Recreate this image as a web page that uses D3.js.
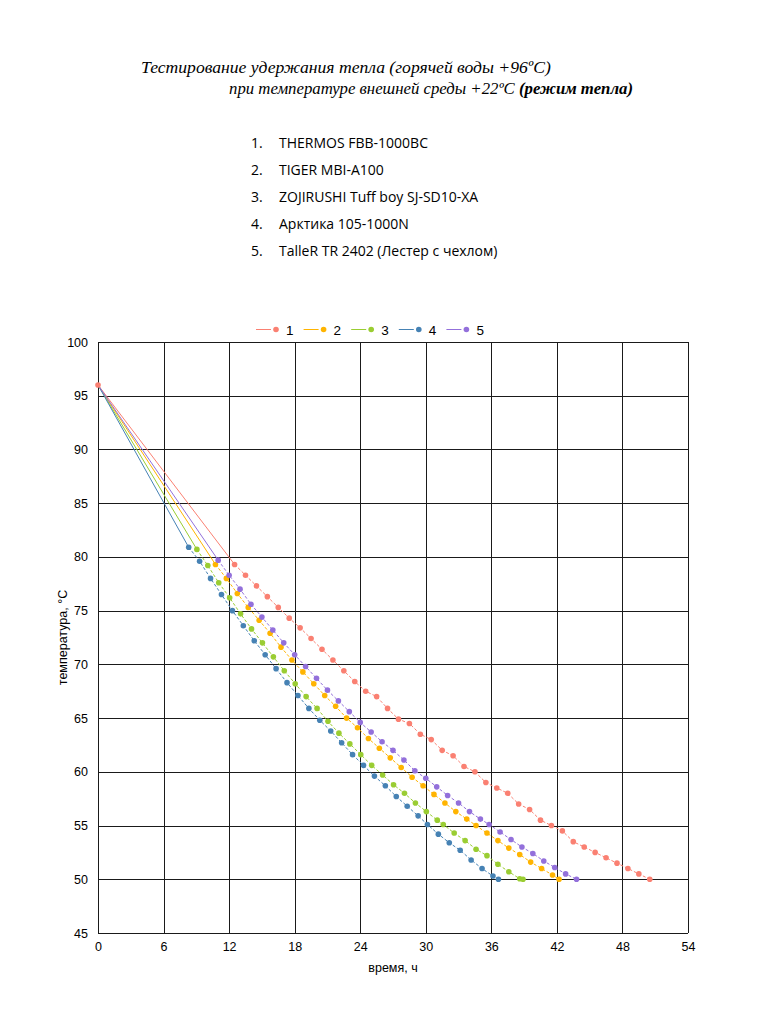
<!DOCTYPE html>
<html>
<head>
<meta charset="utf-8">
<script src="https://cdn.jsdelivr.net/npm/d3@7"></script>
<style>
  html, body { margin: 0; padding: 0; background: #fff; }
  svg { display: block; }
</style>
</head>
<body>
<script>
// ---------- DATA ----------
const titleLine1 = "Тестирование удержания тепла (горячей воды +96ºС)";
const titleLine2a = "при температуре внешней среды +22ºС ";
const titleLine2b = "(режим тепла)";
const listItems = ["THERMOS FBB-1000BC", "TIGER MBI-A100", "ZOJIRUSHI Tuff boy SJ-SD10-XA", "Арктика 105-1000N", "TalleR TR 2402 (Лестер с чехлом)"];
const seriesNames = ["1", "2", "3", "4", "5"];
const seriesColors = ["#fa8072", "#ffb400", "#9acd32", "#4682b4", "#9370db"];
const xTicks = [0, 6, 12, 18, 24, 30, 36, 42, 48, 54];
const yTicks = [45, 50, 55, 60, 65, 70, 75, 80, 85, 90, 95, 100];
const xTitle = "время, ч";
const yTitle = "температура, °C";

const hours1 = [0, 12.5, 13.5, 14.5, 15.5, 16.5, 17.5, 18.5, 19.5, 20.5, 21.5, 22.5, 23.5, 24.5, 25.5, 26.5, 27.5, 28.5, 29.5, 30.5, 31.5, 32.5, 33.5, 34.5, 35.5, 36.5, 37.5, 38.5, 39.5, 40.5, 41.5, 42.5, 43.5, 44.5, 45.5, 46.5, 47.5, 48.5, 49.5, 50.5];
const temps1 = [96, 79.3, 78.3, 77.3, 76.3, 75.3, 74.3, 73.4, 72.4, 71.4, 70.4, 69.4, 68.4, 67.5, 67.0, 65.9, 64.9, 64.5, 63.5, 63.0, 62.0, 61.5, 60.5, 60.0, 59.0, 58.5, 58.0, 57.0, 56.5, 55.5, 55.0, 54.5, 53.5, 53.0, 52.5, 52.0, 51.5, 51.0, 50.5, 50.0];

const hours2 = [0, 10.75, 11.75, 12.75, 13.75, 14.75, 15.75, 16.75, 17.75, 18.75, 19.75, 20.75, 21.75, 22.75, 23.75, 24.75, 25.75, 26.75, 27.75, 28.75, 29.75, 30.75, 31.75, 32.75, 33.75, 34.6, 35.6, 36.6, 37.6, 38.6, 39.6, 40.6, 41.6, 42.2];
const temps2 = [96, 79.3, 78.0, 76.6, 75.3, 74.1, 72.9, 71.6, 70.4, 69.3, 68.2, 67.1, 66.1, 65.0, 64.1, 63.1, 62.2, 61.3, 60.4, 59.5, 58.7, 57.9, 57.1, 56.3, 55.6, 55.0, 54.3, 53.6, 52.9, 52.3, 51.6, 51.0, 50.4, 50.0];

const hours3 = [0, 9.05, 10.05, 11.05, 12.05, 13.05, 14.05, 15.05, 16.05, 17.05, 18.05, 19.05, 20.05, 21.05, 22.05, 23.05, 24.05, 25.05, 26.05, 27.05, 28.05, 29.05, 30.05, 31.05, 31.6, 32.6, 33.6, 34.6, 35.6, 36.6, 37.6, 38.6, 38.9];
const temps3 = [96, 80.7, 79.2, 77.6, 76.2, 74.7, 73.3, 72.0, 70.7, 69.4, 68.2, 67.0, 65.9, 64.7, 63.6, 62.6, 61.6, 60.6, 59.7, 58.8, 58.0, 57.1, 56.3, 55.5, 55.1, 54.3, 53.6, 52.8, 52.2, 51.4, 50.7, 50.05, 50.0];

const hours4 = [0, 8.3, 9.3, 10.3, 11.3, 12.3, 13.3, 14.3, 15.3, 16.3, 17.3, 18.3, 19.3, 20.3, 21.3, 22.3, 23.3, 24.3, 25.3, 26.3, 27.3, 28.3, 29.3, 30.15, 31.15, 32.15, 33.15, 34.15, 35.15, 36.15, 36.65];
const temps4 = [96, 80.9, 79.6, 78.0, 76.5, 75.0, 73.6, 72.2, 70.9, 69.6, 68.3, 67.1, 65.9, 64.8, 63.8, 62.7, 61.6, 60.6, 59.6, 58.7, 57.7, 56.8, 55.9, 55.1, 54.2, 53.4, 52.7, 51.8, 51.0, 50.3, 50.0];

const hours5 = [0, 11, 12, 13, 14, 15, 16, 17, 18, 19, 20, 21, 22, 23, 24, 25, 26, 27, 28, 29, 30, 31, 32, 33, 34, 35, 35.8, 36.8, 37.8, 38.8, 39.8, 40.8, 41.8, 42.8, 43.8];
const temps5 = [96, 79.7, 78.3, 77.0, 75.6, 74.4, 73.2, 72.0, 70.9, 69.8, 68.7, 67.6, 66.6, 65.6, 64.6, 63.7, 62.8, 62.0, 61.1, 60.1, 59.4, 58.6, 57.8, 57.1, 56.3, 55.6, 55.1, 54.4, 53.7, 53.0, 52.4, 51.7, 51.1, 50.5, 50.0];

const allHours = [hours1, hours2, hours3, hours4, hours5];
const allTemps = [temps1, temps2, temps3, temps4, temps5];

// ---------- DRAW ----------
const W = 767, H = 1011;
const svg = d3.select("body").append("svg").attr("width", W).attr("height", H);

// Title (serif italic), fitted to reference widths
function fit(sel, target) {
  const fs = parseFloat(sel.attr("font-size"));
  const w = sel.node().getBBox().width;
  sel.attr("font-size", (fs * target / w).toFixed(2));
}
const t1 = svg.append("text").attr("x", 141).attr("y", 73)
  .attr("font-family", "'Liberation Serif', 'DejaVu Serif', serif")
  .attr("font-style", "italic").attr("font-size", 16).attr("fill", "#000")
  .text(titleLine1);
fit(t1, 410);
const t2 = svg.append("text").attr("x", 229).attr("y", 94)
  .attr("font-family", "'Liberation Serif', 'DejaVu Serif', serif")
  .attr("font-style", "italic").attr("font-size", 16).attr("fill", "#000");
t2.append("tspan").text(titleLine2a);
t2.append("tspan").attr("font-weight", "bold").text(titleLine2b);
fit(t2, 404);

// Numbered list
const list = svg.append("g")
  .attr("font-family", "'Open Sans', 'Noto Sans', sans-serif")
  .attr("font-size", 14).attr("fill", "#000");
listItems.forEach((s, i) => {
  const yy = 147.5 + i * 27.2;
  list.append("text").attr("x", 251).attr("y", yy).text((i + 1) + ".");
  list.append("text").attr("x", 279).attr("y", yy).text(s);
});

// Scales
const x = d3.scaleLinear().domain([0, 54]).range([98, 688]);
const y = d3.scaleLinear().domain([45, 100]).range([933, 342]);

// Grid
const grid = svg.append("g").attr("stroke", "#1a1a1a").attr("stroke-width", 1).attr("shape-rendering", "crispEdges");
xTicks.forEach(v => {
  grid.append("line").attr("x1", Math.round(x(v)) + 0.5).attr("x2", Math.round(x(v)) + 0.5)
    .attr("y1", y(100)).attr("y2", y(45));
});
yTicks.forEach(v => {
  grid.append("line").attr("y1", Math.round(y(v)) + 0.5).attr("y2", Math.round(y(v)) + 0.5)
    .attr("x1", x(0)).attr("x2", x(54));
});

// Axes via d3 axis
const xAxis = d3.axisBottom(x).tickValues(xTicks).tickSize(0).tickPadding(9);
const yAxis = d3.axisLeft(y).tickValues(yTicks).tickSize(0).tickPadding(10);
const gx = svg.append("g").attr("transform", `translate(0,${y(45)})`).call(xAxis);
const gy = svg.append("g").attr("transform", `translate(${x(0)},0)`).call(yAxis);
[gx, gy].forEach(g => {
  g.select(".domain").remove();
  g.selectAll("text").attr("font-family", "'Liberation Sans', Arial, sans-serif")
    .attr("font-size", 12.5).attr("fill", "#000");
});

// Axis titles
svg.append("text").attr("x", (x(0) + x(54)) / 2).attr("y", 972).attr("text-anchor", "middle")
  .attr("font-family", "'Liberation Sans', Arial, sans-serif").attr("font-size", 12.5).text(xTitle);
svg.append("text").attr("transform", `translate(67,${(y(45) + y(100)) / 2}) rotate(-90)`)
  .attr("text-anchor", "middle")
  .attr("font-family", "'Liberation Sans', Arial, sans-serif").attr("font-size", 12.5).text(yTitle);

// Series
const line = d3.line().x(d => x(d[0])).y(d => y(d[1]));
const seriesG = svg.append("g");
allHours.forEach((hs, si) => {
  const pts = hs.map((h, i) => [h, allTemps[si][i]]);
  const col = seriesColors[si];
  seriesG.append("path").attr("d", line(pts.slice(0, 2))).attr("fill", "none")
    .attr("stroke", col).attr("stroke-width", 1);
  seriesG.append("path").attr("d", line(pts.slice(1))).attr("fill", "none")
    .attr("stroke", col).attr("stroke-width", 1).attr("stroke-dasharray", "3,2");
});
allHours.forEach((hs, si) => {
  const pts = hs.map((h, i) => [h, allTemps[si][i]]);
  const col = seriesColors[si];
  seriesG.append("g").selectAll("circle").data(si === 0 ? pts : pts.slice(1)).join("circle")
    .attr("cx", d => x(d[0])).attr("cy", d => y(d[1])).attr("r", 2.8).attr("fill", col);
});

// Legend
const legend = svg.append("g").attr("font-family", "'Liberation Sans', Arial, sans-serif").attr("font-size", 13.5);
seriesNames.forEach((n, i) => {
  const lx = 256 + i * 47.6;
  legend.append("line").attr("x1", lx).attr("x2", lx + 15).attr("y1", 329.5).attr("y2", 329.5)
    .attr("stroke", seriesColors[i]).attr("stroke-width", 1);
  legend.append("circle").attr("cx", lx + 20).attr("cy", 329.5).attr("r", 2.8).attr("fill", seriesColors[i]);
  legend.append("text").attr("x", lx + 30).attr("y", 334.5).text(n);
});
</script>
</body>
</html>
